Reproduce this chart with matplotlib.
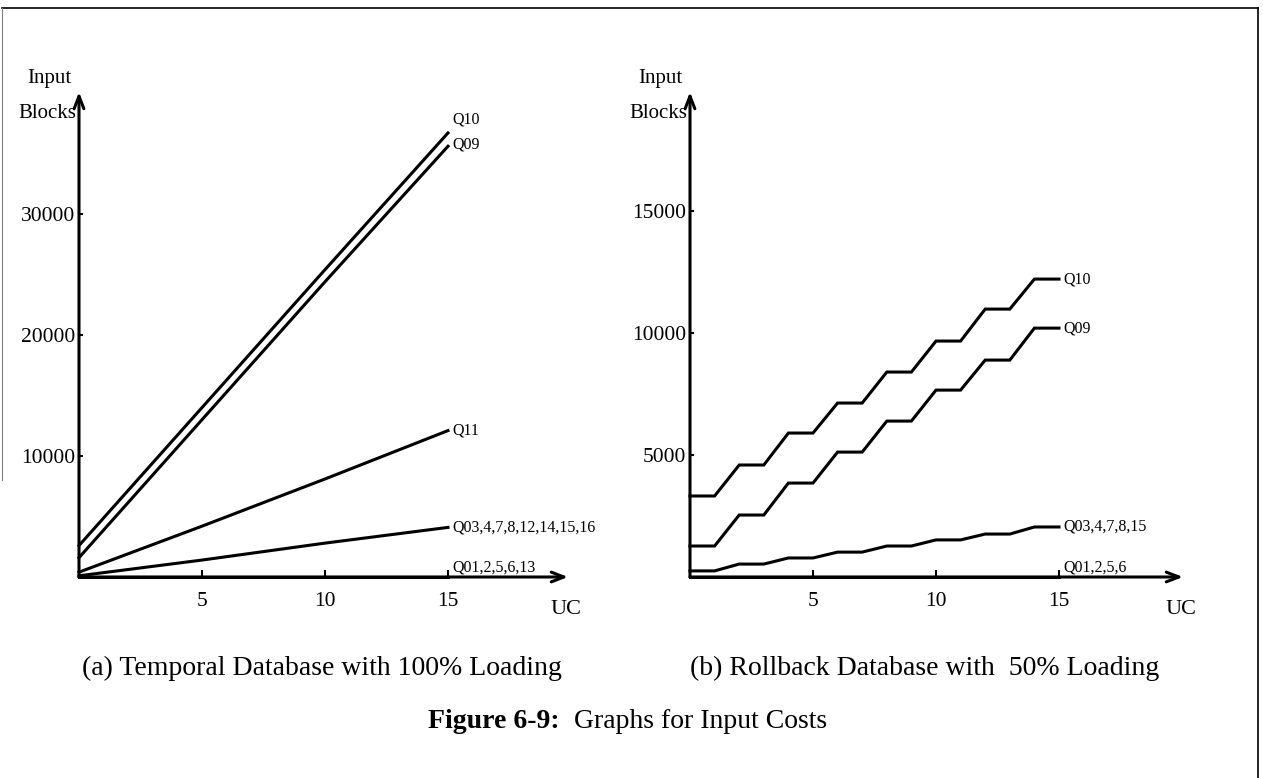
import matplotlib
matplotlib.use("Agg")
import matplotlib.pyplot as plt
from matplotlib.lines import Line2D

plt.rcParams['font.family'] = ['Liberation Serif', 'DejaVu Serif']

# (a) temporal database, 100% loading
uc_a = [0, 5, 10, 15]
a_q10 = [2600, 14000, 25400, 36700]
a_q09 = [1600, 13000, 24400, 35600]
a_q11 = [400, 4200, 8100, 12100]
a_q03 = [100, 1400, 2800, 4100]
a_q01 = [0, 0, 0, 0]

# (b) rollback database, 50% loading
uc_b = list(range(16))
b_q10 = [3320, 3320, 4590, 4590, 5900, 5900, 7130, 7130,
         8400, 8400, 9670, 9670, 10980, 10980, 12210, 12210]
b_q09 = [1270, 1270, 2540, 2540, 3850, 3850, 5120, 5120,
         6390, 6390, 7660, 7660, 8890, 8890, 10200, 10200]
b_q03 = [250, 250, 530, 530, 780, 780, 1020, 1020,
         1270, 1270, 1520, 1520, 1760, 1760, 2050, 2050]
b_q01 = [0] * 16

W, H = 1263, 778
fig = plt.figure(figsize=(W / 100, H / 100), dpi=100)


def add_ax(x0, x1, ytop, ybot):
    return fig.add_axes([x0 / W, 1 - ybot / H, (x1 - x0) / W, (ybot - ytop) / H])


def style_axes(ax, yticks):
    for s in ax.spines.values():
        s.set_visible(False)
    ax.set_xticks([5, 10, 15])
    ax.set_yticks(yticks)
    ax.tick_params(axis='x', direction='in', length=5, width=1.5, pad=11, labelsize=15.5)
    ax.tick_params(axis='y', direction='in', length=3, width=1.5, pad=3, labelsize=15.5)
    arr = dict(arrowstyle='->,head_length=0.9,head_width=0.35', lw=2.2,
               color='black', shrinkA=0, shrinkB=0)
    ax.annotate('', xy=(1, 0), xytext=(0, 0), xycoords='axes fraction', arrowprops=arr)
    ax.annotate('', xy=(0, 1), xytext=(0, 0), xycoords='axes fraction', arrowprops=arr)
    ax.annotate('Input', xy=(0, 1), xycoords='axes fraction', xytext=(-30, 14),
                textcoords='offset pixels', ha='center', va='center', fontsize=15)
    ax.annotate('Blocks', xy=(0, 1), xycoords='axes fraction', xytext=(-3, -22),
                textcoords='offset pixels', ha='right', va='center', fontsize=15)
    ax.annotate('UC', xy=(1, 0), xycoords='axes fraction', xytext=(-2, -33),
                textcoords='offset pixels', ha='center', va='center', fontsize=16)


def draw(ax, x, y, label, dy=0, va='center'):
    ax.plot(x, y, color='black', lw=2.2, clip_on=False, solid_joinstyle='miter')
    ax.annotate(label, xy=(x[-1], y[-1]), xytext=(4, dy), textcoords='offset pixels',
                ha='left', va=va, fontsize=11.5)


ax1 = add_ax(79, 568, 92, 577)
ax1.set_xlim(0, (568 - 79) / 24.6)
ax1.set_ylim(0, (577 - 92) / 121 * 10000)
style_axes(ax1, [10000, 20000, 30000])
draw(ax1, uc_a, a_q10, 'Q10', dy=13)
draw(ax1, uc_a, a_q09, 'Q09', dy=2)
draw(ax1, uc_a, a_q11, 'Q11')
draw(ax1, uc_a, a_q03, 'Q03,4,7,8,12,14,15,16')
draw(ax1, uc_a, a_q01, 'Q01,2,5,6,13', dy=1, va='bottom')

ax2 = add_ax(690, 1183, 92, 577)
ax2.set_xlim(0, (1183 - 690) / 24.6)
ax2.set_ylim(0, (577 - 92) / 122 * 5000)
style_axes(ax2, [5000, 10000, 15000])
draw(ax2, uc_b, b_q10, 'Q10')
draw(ax2, uc_b, b_q09, 'Q09')
draw(ax2, uc_b, b_q03, 'Q03,4,7,8,15')
draw(ax2, uc_b, b_q01, 'Q01,2,5,6', dy=1, va='bottom')

fig.text(322 / W, 1 - 668 / H, '(a) Temporal Database with 100% Loading',
         ha='center', va='center', fontsize=20)
fig.text(925 / W, 1 - 668 / H, '(b) Rollback Database with  50% Loading',
         ha='center', va='center', fontsize=20)
t1 = fig.text(428 / W, 1 - 722 / H, 'Figure 6-9:', ha='left', va='center',
              fontsize=20, fontweight='bold')
ax1.annotate('  Graphs for Input Costs', xy=(1, 0.5), xycoords=t1,
             ha='left', va='center', fontsize=20, annotation_clip=False)

# page frame
fig.add_artist(Line2D([2 / W, 1258 / W], [1 - 8 / H, 1 - 8 / H], color='black', lw=1.2))
fig.add_artist(Line2D([1258 / W, 1258 / W], [1 - 8 / H, 0], color='black', lw=1.2))
fig.add_artist(Line2D([2 / W, 2 / W], [1 - 8 / H, 1 - 480 / H], color='0.5', lw=0.8))

fig.savefig('out.png', dpi=100)
